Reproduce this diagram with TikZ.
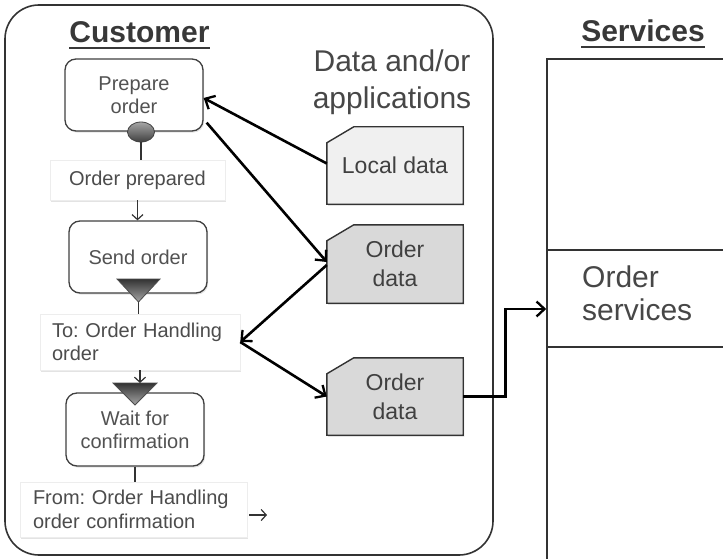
\documentclass[tikz,border=0pt]{standalone}
\usepackage{fontspec}
\setmainfont{Liberation Sans}
\usetikzlibrary{arrows.meta,shadows,calc,shapes.geometric}
\pgfdeclarelayer{background}
\pgfsetlayers{background,main}

\newcommand{\fsz}[2]{\fontsize{#1}{#2}\selectfont\frenchspacing}

\begin{document}
\begin{tikzpicture}[x=1pt,y=-1pt,
  softshadow/.style={drop shadow={opacity=0.22,shadow xshift=1.2pt,shadow yshift=-1.6pt}},
  lane/.style={draw=black!80,line width=1.6pt,rounded corners=34pt},
  title/.style={font=\fsz{30}{36}\bfseries,text=black!78,inner sep=0pt,anchor=base},
  heading/.style={font=\fsz{30}{37},text=black!72,align=center,inner sep=0pt},
  task/.style={draw=black!75,line width=1.3pt,rounded corners=11pt,fill=white,
    text=black!68,align=center,font=\fsz{20}{23},softshadow},
  note/.style={fill=white,draw=black!7,line width=0.6pt,text=black!70,
    font=\fsz{20}{23.5},softshadow},
  datafile/.style={minimum width=136pt,inner sep=0pt,text=black!75,
    align=center,font=\fsz{23}{29}},
  datashape/.style={draw=black!80,line width=1.4pt,softshadow},
  evttri/.style={draw=black!70,line width=0.8pt,top color=black!80,bottom color=black!35},
  svc/.style={draw=black!80,line width=1.6pt,minimum width=193pt,inner sep=0pt},
  flow/.style={draw=black!80,line width=1.3pt},
  flowarr/.style={flow,-{Straight Barb[length=5pt,width=11pt,line width=1.2pt]}},
  dataarr/.style={draw=black,line width=2.6pt,-{Straight Barb[length=8pt,width=15pt,line width=2.3pt]}}
]
\path[use as bounding box,clip] (0,0) rectangle (723,559);

% customer lane
\node[lane,minimum width=488pt,minimum height=550pt] (cust) at (249,280) {};
\node[title] (custT) at (139.5,43) {Customer};
\draw[line width=2pt,black!78] ([yshift=-5pt]custT.base west) -- ([yshift=-5pt]custT.base east);

% services lane
\node[title] (svcT) at (643,42) {Services};
\draw[line width=2pt,black!78] ([yshift=-5pt]svcT.base west) -- ([yshift=-5pt]svcT.base east);
\node[svc,minimum height=191pt] (svcTop) at (643.5,154.5) {};
\node[svc,minimum height=97pt] (svcOrd) at (643.5,298.5) {};
\node[svc,minimum height=228pt] (svcBot) at (643.5,461) {};
\node[font=\fsz{30}{33},text=black!72,align=left,inner sep=0pt,anchor=west]
  (svcOrdT) at (582,293) {Order\\services};

% data and applications
\node[heading] (dataT) at (392,82) {Data and/or\\applications};
\node[datafile,minimum height=77pt] (local) at (395,165.5) {Local data};
\node[datafile,minimum height=78pt] (od1) at (395,264) {Order\\data};
\node[datafile,minimum height=77pt] (od2) at (395,396.5) {Order\\data};
\begin{pgfonlayer}{background}
  \path[datashape,fill=black!6] (local.south west) -- ([yshift=-16pt]local.north west)
    -- ([xshift=27pt]local.north west) -- (local.north east) -- (local.south east) -- cycle;
  \path[datashape,fill=black!15] (od1.south west) -- ([yshift=-16pt]od1.north west)
    -- ([xshift=27pt]od1.north west) -- (od1.north east) -- (od1.south east) -- cycle;
  \path[datashape,fill=black!15] (od2.south west) -- ([yshift=-16pt]od2.north west)
    -- ([xshift=27pt]od2.north west) -- (od2.north east) -- (od2.south east) -- cycle;
\end{pgfonlayer}

% customer process
\node[task,minimum width=138pt,minimum height=72pt] (prep) at (134,95) {Prepare\\order};
\node[ellipse,minimum width=27pt,minimum height=20pt,inner sep=0pt,draw=black!75,
  line width=0.8pt,top color=black!35,bottom color=black!75] (prepEvt) at (141,132) {};
\node[note,minimum width=175pt,minimum height=40pt] (prepOut) at (137.5,180) {Order prepared};
\node[task,minimum width=138pt,minimum height=72pt] (send) at (138,257) {Send order};
\node[note,minimum width=200pt,minimum height=56pt,text width=176pt,align=left,
  inner xsep=12pt] (toBox) at (140,342) {To: Order Handling\\order};
\node[task,minimum width=138pt,minimum height=73pt] (wait) at (135,429.5) {Wait for\\confirmation};
\node[note,minimum width=227pt,minimum height=55pt,text width=201pt,align=left,
  inner xsep=13pt] (fromBox) at (133.5,509.5) {From: Order Handling\\order confirmation};

% event markers
\coordinate (sendEvt) at (138.5,279);
\coordinate (sendTip) at (138.5,302);
\coordinate (waitEvt) at (135,383);
\coordinate (waitTip) at (135,405);
\coordinate (fromEnd) at (267,515);

% flow connectors
\draw[flow] (prepEvt.south) -- (prepEvt.south |- prepOut.north);
\draw[flowarr] (prepOut.south) -- (prepOut.south |- send.north);
\draw[flow] (sendTip) -- (sendTip |- toBox.north);
\draw[flowarr] (toBox.south) -- (toBox.south |- waitEvt);
\draw[flow] (wait.south) -- (wait.south |- fromBox.north);
\draw[flowarr] (fromBox.east |- fromEnd) ++(2,0) -- (fromEnd);

\path[evttri] ($(sendEvt)+(-21.5,0)$) -- ($(sendEvt)+(21.5,0)$) -- (sendTip) -- cycle;
\path[evttri] ($(waitEvt)+(-22,0)$) -- ($(waitEvt)+(22,0)$) -- (waitTip) -- cycle;

% data connectors
\draw[dataarr] ([yshift=2pt]local.west) -- ([yshift=-3pt]prep.east);
\draw[dataarr] ($(prep.south east)+(3,-9)$) -- ([yshift=2pt]od1.west);
\draw[dataarr] ([yshift=-1pt]od1.west) -- (toBox.east);
\draw[dataarr] (toBox.east) -- (od2.west);
\draw[dataarr] (od2.east) -- ++(42,0) |- ([yshift=-10.5pt]svcOrd.west);
\end{tikzpicture}
\end{document}
